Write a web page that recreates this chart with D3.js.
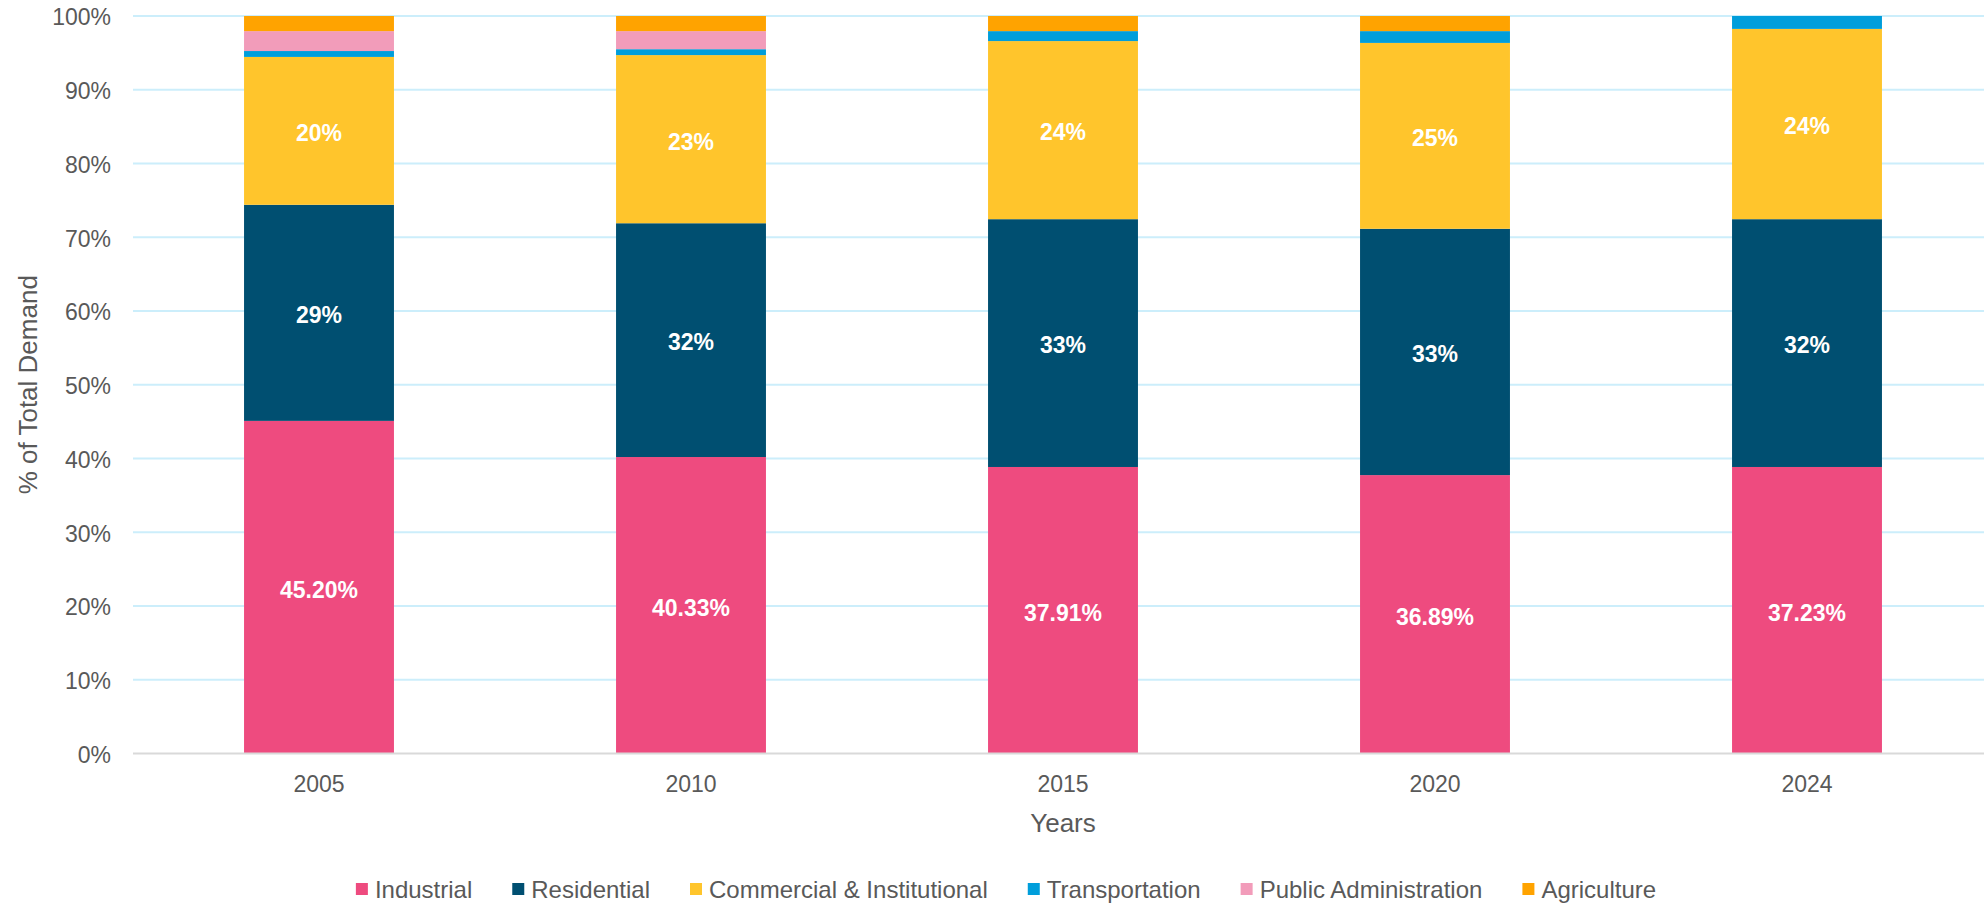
<!DOCTYPE html>
<html>
<head>
<meta charset="utf-8">
<script src="https://cdn.jsdelivr.net/npm/d3@7"></script>
<style>
  body { margin: 0; background: #fff; }
  text { font-family: "Liberation Sans", Arial, sans-serif; }
</style>
</head>
<body>
<div id="chart"></div>
<script>
// Données (hauteur des barres en %)
const years = ["2005", "2010", "2015", "2020", "2024"];
const sectors = ["Industrial", "Residential", "Commercial & Institutional", "Transportation", "Public Administration", "Agriculture"];
const colors = ["#EE4B7F", "#004F71", "#FFC52C", "#009EDB", "#F29CBA", "#FFA300"];

const industrial   = [45.10, 40.20, 38.85, 37.75, 38.85];
const residential  = [29.30, 31.70, 33.60, 33.40, 33.60];
const commercial   = [20.05, 22.80, 24.15, 25.20, 25.80];
const transport    = [0.80, 0.80, 1.35, 1.60, 1.75];
const publicAdmin  = [2.70, 2.45, 0, 0, 0];
const agriculture  = [2.05, 2.05, 2.05, 2.05, 0];

// Étiquettes affichées dans les barres (texte tel quel)
const industrialLabels  = ["45.20%", "40.33%", "37.91%", "36.89%", "37.23%"];
const residentialLabels = ["29%", "32%", "33%", "33%", "32%"];
const commercialLabels  = ["20%", "23%", "24%", "25%", "24%"];

const yTicks = [0, 10, 20, 30, 40, 50, 60, 70, 80, 90, 100];

function main() {
  const width = 1984;
  const height = 903;
  const margin = { top: 16, right: -9, bottom: 149.5, left: 133 };

  const series = [industrial, residential, commercial, transport, publicAdmin, agriculture];
  const table = years.map((y, i) => {
    const row = { year: y };
    sectors.forEach((s, k) => row[s] = series[k][i]);
    return row;
  });
  const stacked = d3.stack().keys(sectors)(table);

  const svg = d3.select("#chart").append("svg")
    .attr("width", width)
    .attr("height", height)
    .style("display", "block");

  const x = d3.scaleBand()
    .domain(years)
    .range([margin.left, width - margin.right])
    .paddingInner(0.597)
    .paddingOuter(0.2985);

  const y = d3.scaleLinear()
    .domain([0, 100])
    .range([height - margin.bottom, margin.top]);

  // Grille
  svg.append("g")
    .selectAll("line")
    .data(yTicks.filter(t => t > 0))
    .join("line")
    .attr("x1", margin.left)
    .attr("x2", width)
    .attr("y1", d => y(d))
    .attr("y2", d => y(d))
    .attr("stroke", "#CCEEFB")
    .attr("stroke-width", 2);

  // Axe Y
  const yAxis = svg.append("g")
    .attr("transform", `translate(${margin.left},0)`)
    .call(d3.axisLeft(y).tickValues(yTicks).tickFormat(d => d + "%").tickSize(0).tickPadding(22));
  yAxis.select(".domain").remove();
  yAxis.selectAll("text")
    .attr("font-size", 23)
    .attr("dy", "0.38em")
    .attr("fill", "#595959")
    .attr("font-family", "Liberation Sans, Arial, sans-serif");

  // Barres
  svg.append("g")
    .selectAll("g")
    .data(stacked)
    .join("g")
    .attr("fill", (d, i) => colors[i])
    .selectAll("rect")
    .data(d => d)
    .join("rect")
    .attr("x", d => x(d.data.year))
    .attr("y", d => y(d[1]))
    .attr("width", x.bandwidth())
    .attr("height", d => y(d[0]) - y(d[1]));

  // Ligne de base
  svg.append("line")
    .attr("x1", margin.left)
    .attr("x2", width)
    .attr("y1", y(0))
    .attr("y2", y(0))
    .attr("stroke", "#D9D9D9")
    .attr("stroke-width", 2);

  // Axe X
  const xAxis = svg.append("g")
    .attr("transform", `translate(0,${y(0)})`)
    .call(d3.axisBottom(x).tickSize(0).tickPadding(22));
  xAxis.select(".domain").remove();
  xAxis.selectAll("text")
    .attr("font-size", 23)
    .attr("fill", "#595959")
    .attr("font-family", "Liberation Sans, Arial, sans-serif");

  // Étiquettes des segments
  const labelSets = [industrialLabels, residentialLabels, commercialLabels];
  labelSets.forEach((labels, k) => {
    svg.append("g")
      .selectAll("text")
      .data(stacked[k])
      .join("text")
      .attr("x", d => x(d.data.year) + x.bandwidth() / 2)
      .attr("y", d => (y(d[0]) + y(d[1])) / 2)
      .attr("dy", "0.45em")
      .attr("text-anchor", "middle")
      .attr("font-size", 23)
      .attr("font-weight", "bold")
      .attr("fill", "#fff")
      .text((d, i) => labels[i]);
  });

  // Titres des axes
  svg.append("text")
    .attr("x", (margin.left + width - margin.right) / 2)
    .attr("y", 823)
    .attr("dy", "0.35em")
    .attr("text-anchor", "middle")
    .attr("font-size", 26)
    .attr("fill", "#595959")
    .text("Years");

  svg.append("text")
    .attr("transform", `translate(28,${(y(0) + y(100)) / 2}) rotate(-90)`)
    .attr("dy", "0.35em")
    .attr("text-anchor", "middle")
    .attr("font-size", 26)
    .attr("fill", "#595959")
    .text("% of Total Demand");

  // Légende
  const legend = svg.append("g");
  const sq = 12, gap = 7, itemGap = 40;
  let cursor = 0;
  sectors.forEach((s, i) => {
    const g = legend.append("g");
    g.append("rect")
      .attr("x", 0).attr("y", 883)
      .attr("width", sq).attr("height", sq)
      .attr("fill", colors[i]);
    const t = g.append("text")
      .attr("x", sq + gap)
      .attr("y", 890)
      .attr("dy", "0.35em")
      .attr("font-size", 24)
      .attr("fill", "#595959")
      .text(s);
    const w = sq + gap + t.node().getComputedTextLength();
    g.attr("transform", `translate(${cursor},0)`);
    cursor += w + itemGap;
  });
  const totalW = cursor - itemGap;
  legend.attr("transform", `translate(${1006 - totalW / 2},0)`);
}

main();
</script>
</body>
</html>
